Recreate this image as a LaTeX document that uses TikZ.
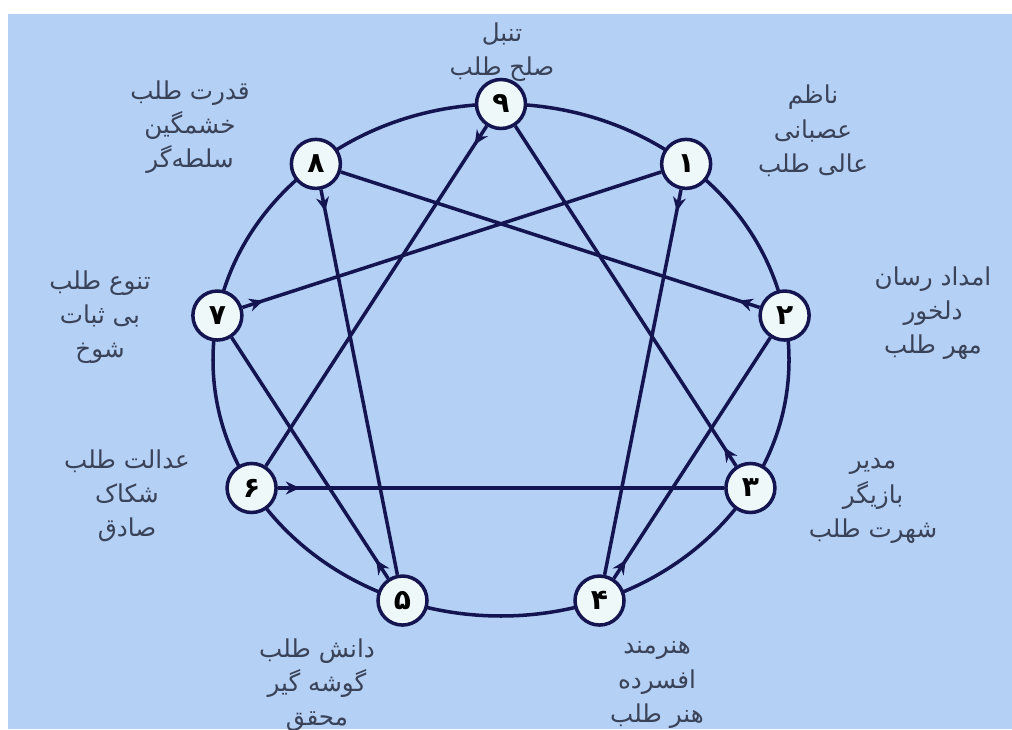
\documentclass[tikz,border=0pt]{standalone}
\usepackage{fontspec}
\newfontfamily\arabicfont[Script=Arabic]{DejaVu Sans}
\TeXXeTstate=1
\usetikzlibrary{arrows.meta,decorations.markings}
\newcommand{\fa}[1]{\beginR #1\endR}
\definecolor{bgblue}{RGB}{180,208,245}
\definecolor{navy}{RGB}{20,20,80}
\definecolor{textgray}{RGB}{58,66,88}
\definecolor{pointfill}{RGB}{238,248,248}

\begin{document}
\begin{tikzpicture}[
    every node/.style={font=\arabicfont},
    point/.style={circle, draw=navy, line width=2pt, fill=pointfill, minimum size=0.98cm, inner sep=0pt, font=\arabicfont\bfseries\fontsize{16}{16}\selectfont},
    trait/.style={align=center, text=textgray, font=\arabicfont\fontsize{14}{19.5}\selectfont},
    ring/.style={draw=navy, line width=2pt},
    flow/.style={navy, line width=2pt, postaction={decorate},
        decoration={markings, mark=at position 0.44cm with {\arrow{Stealth[length=2.8mm, width=2.6mm]}}}}
]
\path[use as bounding box] (0,0) rectangle (20.24,14.58);
\fill[bgblue] (0.16,0) rectangle (20.24,14.30);
\draw[ring] (10.02,7.38) ellipse [x radius=5.76cm, y radius=5.12cm];
\foreach \n/\d in {1/۱,2/۲,3/۳,4/۴,5/۵,6/۶,7/۷,8/۸,9/۹}
    \node[point] (n\n) at ({10.02+5.76*cos(90-40*\n)},{7.38+5.12*sin(90-40*\n)}) {\d};
\foreach \a/\b in {1/4,4/2,2/8,8/5,5/7,7/1,9/6,6/3,3/9}
    \draw[flow] (n\a) -- (n\b);
\node[trait] (t9) at (10.04,13.54) {\fa{تنبل}\\\fa{صلح طلب}};
\node[trait] (t8) at (3.80,12.04) {\fa{قدرت طلب}\\\fa{خشمگین}\\\fa{سلطه‌گر}};
\node[trait] (t1) at (16.26,11.96) {\fa{ناظم}\\\fa{عصبانی}\\\fa{عالی طلب}};
\node[trait] (t2) at (18.66,8.32) {\fa{امداد رسان}\\\fa{دلخور}\\\fa{مهر طلب}};
\node[trait] (t3) at (17.46,4.56) {\fa{مدیر}\\\fa{بازیگر}\\\fa{شهرت طلب}};
\node[trait] (t4) at (13.14,0.88) {\fa{هنرمند}\\\fa{افسرده}\\\fa{هنر طلب}};
\node[trait] (t5) at (6.34,0.88) {\fa{دانش طلب}\\\fa{گوشه گیر}\\\fa{محقق}};
\node[trait] (t6) at (2.54,4.66) {\fa{عدالت طلب}\\\fa{شکاک}\\\fa{صادق}};
\node[trait] (t7) at (2.00,8.24) {\fa{تنوع طلب}\\\fa{بی ثبات}\\\fa{شوخ}};
\end{tikzpicture}
\end{document}
